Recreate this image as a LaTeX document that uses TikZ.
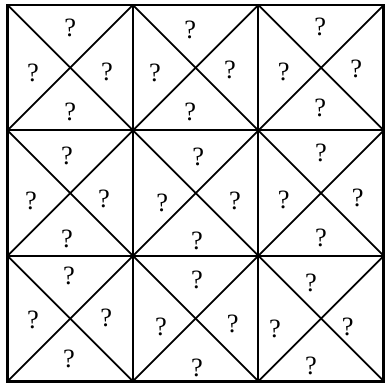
\documentclass[tikz,border=0pt]{standalone}
\usepackage{fontspec}
\setmainfont{Liberation Serif}
\usepackage{tikz}

\begin{document}
\begin{tikzpicture}[qm/.style={font=\fontsize{18}{20}\selectfont, inner sep=0pt}]
    \useasboundingbox (-0.18,-0.04) rectangle (9.03,9.12);
    %griglia interna
    \draw[line width=1.4pt] (3,0) -- (3,9);
    \draw[line width=1.4pt] (6,0) -- (6,9);
    \draw[line width=1.4pt] (0,3) -- (9,3);
    \draw[line width=1.4pt] (0,6) -- (9,6);
    %diagonali discendenti
    \draw[line width=1.2pt] (0,9) -- (9,0);
    \draw[line width=1.2pt] (0,6) -- (6,0);
    \draw[line width=1.2pt] (0,3) -- (3,0);
    \draw[line width=1.2pt] (3,9) -- (9,3);
    \draw[line width=1.2pt] (6,9) -- (9,6);
    %diagonali ascendenti
    \draw[line width=1.2pt] (0,0) -- (9,9);
    \draw[line width=1.2pt] (3,0) -- (9,6);
    \draw[line width=1.2pt] (6,0) -- (9,3);
    \draw[line width=1.2pt] (0,3) -- (6,9);
    \draw[line width=1.2pt] (0,6) -- (3,9);
    %bordo
    \draw[line width=2pt] (0,0) rectangle (9,9);
    %riga 1
    \node[qm] (q11t) at (1.50,8.45) {?};
    \node[qm] (q11l) at (0.61,7.37) {?};
    \node[qm] (q11r) at (2.38,7.39) {?};
    \node[qm] (q11b) at (1.50,6.44) {?};
    \node[qm] (q12t) at (4.37,8.40) {?};
    \node[qm] (q12l) at (3.53,7.37) {?};
    \node[qm] (q12r) at (5.32,7.44) {?};
    \node[qm] (q12b) at (4.37,6.44) {?};
    \node[qm] (q13t) at (7.48,8.47) {?};
    \node[qm] (q13l) at (6.61,7.40) {?};
    \node[qm] (q13r) at (8.34,7.47) {?};
    \node[qm] (q13b) at (7.48,6.54) {?};
    %riga 2
    \node[qm] (q21t) at (1.42,5.39) {?};
    \node[qm] (q21l) at (0.56,4.32) {?};
    \node[qm] (q21r) at (2.31,4.36) {?};
    \node[qm] (q21b) at (1.42,3.41) {?};
    \node[qm] (q22t) at (4.56,5.37) {?};
    \node[qm] (q22l) at (3.70,4.27) {?};
    \node[qm] (q22r) at (5.44,4.31) {?};
    \node[qm] (q22b) at (4.53,3.36) {?};
    \node[qm] (q23t) at (7.50,5.46) {?};
    \node[qm] (q23l) at (6.61,4.34) {?};
    \node[qm] (q23r) at (8.38,4.39) {?};
    \node[qm] (q23b) at (7.50,3.43) {?};
    %riga 3
    \node[qm] (q31t) at (1.47,2.52) {?};
    \node[qm] (q31l) at (0.61,1.47) {?};
    \node[qm] (q31r) at (2.36,1.52) {?};
    \node[qm] (q31b) at (1.47,0.54) {?};
    \node[qm] (q32t) at (4.53,2.43) {?};
    \node[qm] (q32l) at (3.67,1.30) {?};
    \node[qm] (q32r) at (5.39,1.37) {?};
    \node[qm] (q32b) at (4.53,0.32) {?};
    \node[qm] (q33t) at (7.26,2.36) {?};
    \node[qm] (q33l) at (6.40,1.25) {?};
    \node[qm] (q33r) at (8.14,1.30) {?};
    \node[qm] (q33b) at (7.26,0.37) {?};
\end{tikzpicture}
\end{document}
